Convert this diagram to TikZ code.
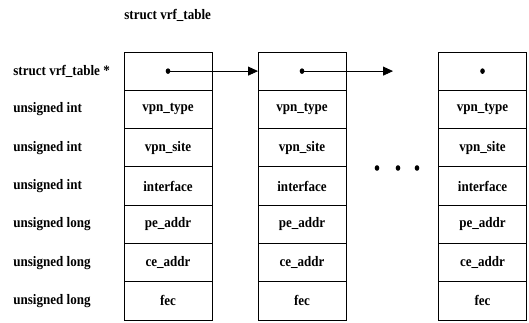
\documentclass[tikz,border=0pt]{standalone}
\usepackage{fontspec}
\setmainfont{Liberation Serif}[FakeStretch=0.9]
\usetikzlibrary{arrows.meta,positioning}

\begin{document}
\begin{tikzpicture}[x=1pt, y=-1pt, line width=.8pt]
\tikzstyle{every node}=[font=\fontsize{14.5}{16}\selectfont\bfseries] %%
\tikzstyle{cell}=[draw, minimum width=88pt, minimum height=38.3pt, inner sep=0pt, outer sep=0pt]
\tikzstyle{type}=[anchor=west, inner sep=0pt]
\tikzstyle{ptr}=[-{Triangle[length=10pt,width=9pt]}]
\useasboundingbox (0,0) rectangle (529,322);
\node[anchor=west, inner sep=0pt] (title) at (124,15) {struct vrf\_table};
% pointer row
\node[cell] (a0) at (168,71.1) {};
\node[cell] (b0) at (302,71.1) {};
\node[cell] (c0) at (482.5,71.1) {};
\node[type] (t0) at (13,0 |- a0) {struct vrf\_table *};
% fields
\foreach \f/\t [count=\i] in {vpn\_type/unsigned int, vpn\_site/unsigned int,
    interface/unsigned int, pe\_addr/unsigned long, ce\_addr/unsigned long,
    fec/unsigned long}
{
    \pgfmathtruncatemacro\p{\i-1}
    \node[cell, below=0pt of a\p] (a\i) {\f};
    \node[cell, below=0pt of b\p] (b\i) {\f};
    \node[cell, below=0pt of c\p] (c\i) {\f};
    \node[type] (t\i) at (13,0 |- a\i) {\t};
}
\coordinate (next) at (393,71.1);
\fill (a0.center) ellipse (2.3pt and 2.8pt);
\fill (b0.center) ellipse (2.3pt and 2.8pt);
\fill (c0.center) ellipse (2.3pt and 2.8pt);
\draw[ptr] (a0.center) -- (b0.west);
\draw[ptr] (b0.center) -- (next);
% more tables
\foreach \x in {377,398,417}
    \fill (\x,168) ellipse (2.3pt and 2.8pt);
\end{tikzpicture}
\end{document}
